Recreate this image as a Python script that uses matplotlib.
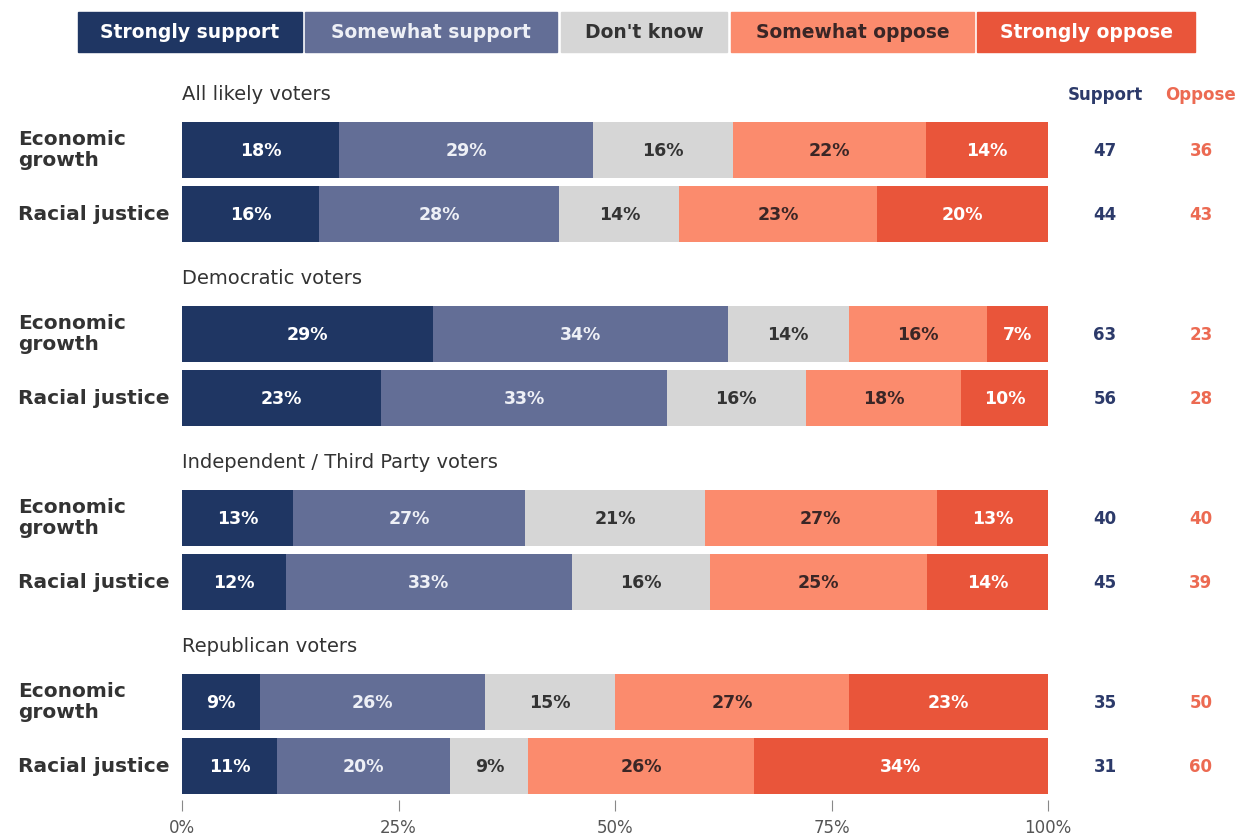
import numpy as np
import matplotlib.pyplot as plt
from matplotlib.patches import Rectangle

# Response categories and colours
categories = ['Strongly support', 'Somewhat support', "Don't know", 'Somewhat oppose', 'Strongly oppose']
colors = ['#1f3663', '#636e96', '#d6d6d6', '#fb8b6d', '#e9553a']
text_colors = ['white', '#eef0f6', '#333333', '#3a2626', 'white']

groups = ['All likely voters', 'Democratic voters', 'Independent / Third Party voters', 'Republican voters']
items = ['Economic\ngrowth', 'Racial justice']

# values[group][item] = [strongly support, somewhat support, don't know, somewhat oppose, strongly oppose]
all_voters = [[18, 29, 16, 22, 14], [16, 28, 14, 23, 20]]
dem_voters = [[29, 34, 14, 16, 7], [23, 33, 16, 18, 10]]
ind_voters = [[13, 27, 21, 27, 13], [12, 33, 16, 25, 14]]
rep_voters = [[9, 26, 15, 27, 23], [11, 20, 9, 26, 34]]
values = [all_voters, dem_voters, ind_voters, rep_voters]

support = [[47, 44], [63, 56], [40, 45], [35, 31]]
oppose = [[36, 43], [23, 28], [40, 39], [50, 60]]

fig = plt.figure(figsize=(12.45, 8.4), dpi=100)
ax = fig.add_axes([182 / 1245, 1 - 800 / 840, 866 / 1245, 740 / 840])
ax.set_xlim(0, 100)
ax.set_ylim(800, 60)

px = 100 / 866  # one pixel in x data units
bar_h = 56

for g, grp in enumerate(groups):
    for r in range(2):
        yc = 150 + 184 * g + 64 * r
        row = np.array(values[g][r], dtype=float)
        widths = row / row.sum() * 100
        lefts = np.concatenate([[0], np.cumsum(widths)[:-1]])
        ax.barh(yc, widths, left=lefts, height=bar_h, color=colors, linewidth=0)
        for k in range(5):
            ax.text(lefts[k] + widths[k] / 2, yc + 1, f'{values[g][r][k]}%',
                    ha='center', va='center', fontsize=12.5, fontweight='bold',
                    color=text_colors[k])
        ax.text(-164 * px, yc, items[r], ha='left', va='center', fontsize=14.5,
                fontweight='bold', color='#333333', linespacing=1.15, clip_on=False)
        ax.text(923 * px, yc + 1, str(support[g][r]), ha='center', va='center',
                fontsize=12, fontweight='bold', color='#2c3a6a', clip_on=False)
        ax.text(1019 * px, yc + 1, str(oppose[g][r]), ha='center', va='center',
                fontsize=12, fontweight='bold', color='#ec6a52', clip_on=False)
    ax.text(0, 150 + 184 * g - 55, grp, ha='left', va='center', fontsize=14,
            color='#333333', clip_on=False)

ax.text(923 * px, 95, 'Support', ha='center', va='center', fontsize=12,
        fontweight='bold', color='#2c3a6a', clip_on=False)
ax.text(1019 * px, 95, 'Oppose', ha='center', va='center', fontsize=12,
        fontweight='bold', color='#ec6a52', clip_on=False)

# legend boxes across the top
leg_x = [78, 305, 561, 731, 977]
leg_w = [224, 252, 166, 243, 218]
for k in range(5):
    x0 = (leg_x[k] - 182) * px
    ax.add_patch(Rectangle((x0, 12), leg_w[k] * px, 40, color=colors[k], clip_on=False))
    ax.text(x0 + leg_w[k] * px / 2, 33, categories[k], ha='center', va='center',
            fontsize=13.5, fontweight='bold', color=text_colors[k], clip_on=False)

ax.set_yticks([])
ax.set_xticks([0, 25, 50, 75, 100])
ax.set_xticklabels(['0%', '25%', '50%', '75%', '100%'], fontsize=12, color='#555555')
ax.tick_params(axis='x', length=8, width=0.8, color='#888888', pad=6)
for s in ax.spines.values():
    s.set_visible(False)

fig.savefig('out.png', dpi=100)
